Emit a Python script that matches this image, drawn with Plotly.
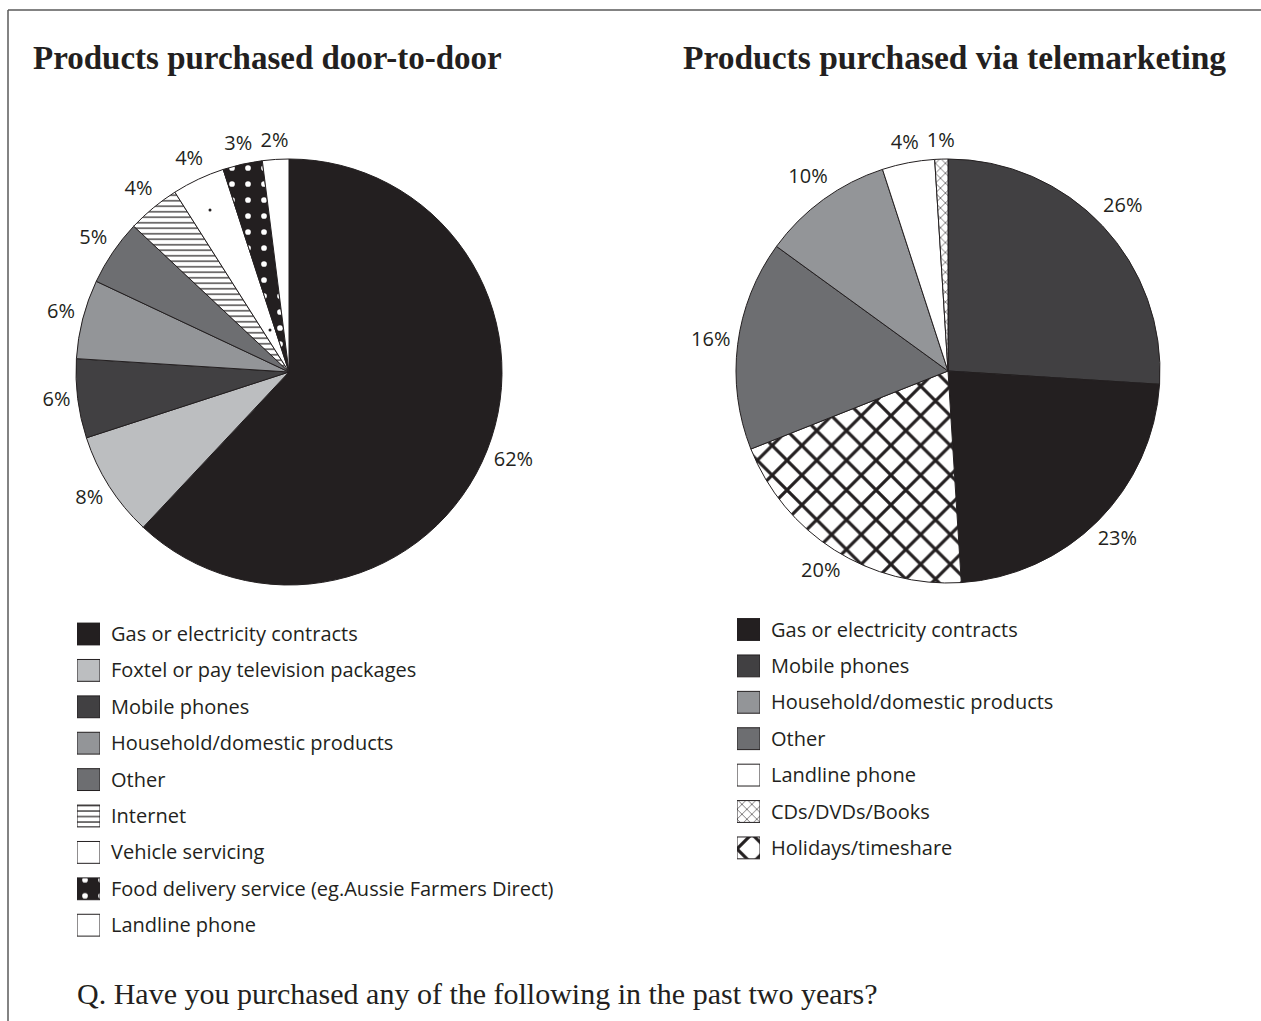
import math
import plotly.graph_objects as go

W, H = 1261, 1021

# Products purchased door-to-door, clockwise from 12 o'clock (also the legend order)
door_labels = [
    "Gas or electricity contracts",
    "Foxtel or pay television packages",
    "Mobile phones",
    "Household/domestic products",
    "Other",
    "Internet",
    "Vehicle servicing",
    "Food delivery service (eg.Aussie Farmers Direct)",
    "Landline phone",
]
door_values = [62, 8, 6, 6, 5, 4, 4, 3, 2]

# Products purchased via telemarketing, in legend order
tele_labels = [
    "Gas or electricity contracts",
    "Mobile phones",
    "Household/domestic products",
    "Other",
    "Landline phone",
    "CDs/DVDs/Books",
    "Holidays/timeshare",
]
tele_values = [23, 26, 10, 16, 4, 1, 20]

# Order of the telemarketing slices, clockwise from 12 o'clock
tele_slice_order = [
    "Mobile phones",
    "Gas or electricity contracts",
    "Holidays/timeshare",
    "Other",
    "Household/domestic products",
    "Landline phone",
    "CDs/DVDs/Books",
]

title_left = "Products purchased door-to-door"
title_right = "Products purchased via telemarketing"
question = "Q. Have you purchased any of the following in the past two years?"

# ---- styling -------------------------------------------------------------
INK = "#231f20"
WHITE = "#ffffff"
SANS = "Open Sans"
SERIF = "Liberation Serif"

# fill colour, pattern shape, pattern fg, pattern bg, pattern size, solidity
STYLE = {
    "Gas or electricity contracts": (INK, "", INK, WHITE, 8, 0.3),
    "Foxtel or pay television packages": ("#bcbec0", "", INK, WHITE, 8, 0.3),
    "Mobile phones": ("#414042", "", INK, WHITE, 8, 0.3),
    "Household/domestic products": ("#939598", "", INK, WHITE, 8, 0.3),
    "Other": ("#6d6e71", "", INK, WHITE, 8, 0.3),
    "Internet": (WHITE, "-", INK, WHITE, 5.5, 0.22),
    "Vehicle servicing": (WHITE, ".", INK, WHITE, 60, 0.002),
    "Food delivery service (eg.Aussie Farmers Direct)": (INK, ".", WHITE, INK, 16, 0.1),
    "Landline phone": (WHITE, "", INK, WHITE, 8, 0.3),
    "CDs/DVDs/Books": (WHITE, "x", INK, WHITE, 7, 0.16),
    "Holidays/timeshare": (WHITE, "x", INK, WHITE, 21, 0.28),
}

# pie geometry in pixels: centre (x, y from top) and radius
LEFT_PIE = (289, 372, 213)
RIGHT_PIE = (948, 371, 212)
POLAR_SPAN = 1.35   # radial extent of the label overlay, in pie radii
LABEL_GAP = 6       # px between the pie rim and the nearest edge of a label

LABEL_SIZE = 20
LABEL_FONT = dict(family=SANS, size=LABEL_SIZE, color=INK)


def px_x(v):
    return v / W


def px_y(v):
    return 1 - v / H


def pie_domain(geom, scale=1.0):
    cx, cy, r = geom
    r = r * scale
    return dict(x=[px_x(cx - r), px_x(cx + r)], y=[px_y(cy + r), px_y(cy - r)])


def pie_marker(labels):
    st = [STYLE[lab] for lab in labels]
    return dict(
        colors=[s[0] for s in st],
        line=dict(color=INK, width=1),
        pattern=dict(
            shape=[s[1] for s in st],
            fgcolor=[s[2] for s in st],
            bgcolor=[s[3] for s in st],
            size=[s[4] for s in st],
            solidity=[s[5] for s in st],
            fillmode="replace",
        ),
    )


def mid_angles(values):
    """Angle (degrees, clockwise from 12 o'clock) through the middle of each slice."""
    total = float(sum(values))
    out, acc = [], 0.0
    for v in values:
        out.append((acc + v / 2.0) / total * 360.0)
        acc += v
    return out


def label_radii(texts, angles, radius):
    """Push each label out so its box sits just clear of the rim."""
    out = []
    for t, a in zip(texts, angles):
        w = LABEL_SIZE * (0.57 * (len(t) - 1) + 0.85)
        h = LABEL_SIZE * 1.05
        th = math.radians(a)
        half = abs(math.sin(th)) * w / 2 + abs(math.cos(th)) * h / 2
        out.append(1 + (LABEL_GAP + half) / radius)
    return out


fig = go.Figure()

# ---- pies ----------------------------------------------------------------
fig.add_trace(go.Pie(
    labels=door_labels, values=door_values,
    sort=False, direction="clockwise", rotation=0,
    marker=pie_marker(door_labels), textinfo="none",
    domain=pie_domain(LEFT_PIE),
    showlegend=False, hoverinfo="label+value",
))

tele_lookup = dict(zip(tele_labels, tele_values))
tele_slice_values = [tele_lookup[lab] for lab in tele_slice_order]
fig.add_trace(go.Pie(
    labels=tele_slice_order, values=tele_slice_values,
    sort=False, direction="clockwise", rotation=0,
    marker=pie_marker(tele_slice_order), textinfo="none",
    domain=pie_domain(RIGHT_PIE),
    showlegend=False, hoverinfo="label+value",
))

# ---- percentage labels just outside each slice ------------------------------
for values, geom, subplot in ((door_values, LEFT_PIE, "polar"),
                              (tele_slice_values, RIGHT_PIE, "polar2")):
    texts = [f"{v}%" for v in values]
    angles = mid_angles(values)
    fig.add_trace(go.Scatterpolar(
        r=label_radii(texts, angles, geom[2]), theta=angles,
        text=texts, mode="text",
        textposition="middle center", textfont=LABEL_FONT,
        subplot=subplot, showlegend=False, hoverinfo="skip", cliponaxis=False,
    ))

hidden_polar = dict(
    bgcolor="rgba(0,0,0,0)",
    radialaxis=dict(range=[0, POLAR_SPAN], visible=False),
    angularaxis=dict(rotation=90, direction="clockwise", visible=False),
)

# ---- legends: one swatch per category, labels on the axis ticks ------------
def add_legend(labels, xa, ya):
    for lab in labels:
        color, shape, fg, bg, size, sol = STYLE[lab]
        fig.add_trace(go.Bar(
            x=[1], y=[lab], orientation="h", width=0.6,
            marker=dict(
                color=color, line=dict(color=INK, width=1),
                pattern=dict(shape=shape, fgcolor=fg, bgcolor=bg, size=size,
                             solidity=sol, fillmode="replace"),
            ),
            xaxis=xa, yaxis=ya, showlegend=False, hoverinfo="skip",
        ))


add_legend(door_labels, "x", "y")
add_legend(tele_labels, "x2", "y2")

ROW = 36.4
left_top = 634 - ROW / 2
left_bot = left_top + ROW * len(door_labels)
right_top = 629.5 - ROW / 2
right_bot = right_top + ROW * len(tele_labels)

hidden_x = dict(range=[0, 1], visible=False, fixedrange=True)
legend_y = dict(
    type="category", autorange="reversed", side="right",
    showgrid=False, zeroline=False, showline=False, ticks="",
    ticklabelstandoff=10,
    tickfont=dict(family=SANS, size=20, color=INK), fixedrange=True,
)

fig.update_layout(
    width=W, height=H,
    margin=dict(l=0, r=0, t=0, b=0),
    paper_bgcolor=WHITE, plot_bgcolor="rgba(0,0,0,0)",
    barmode="overlay",
    xaxis=dict(domain=[px_x(77), px_x(100)], anchor="y", **hidden_x),
    yaxis=dict(domain=[px_y(left_bot), px_y(left_top)], anchor="x", **legend_y),
    xaxis2=dict(domain=[px_x(737), px_x(760)], anchor="y2", **hidden_x),
    yaxis2=dict(domain=[px_y(right_bot), px_y(right_top)], anchor="x2", **legend_y),
    polar=dict(domain=pie_domain(LEFT_PIE, POLAR_SPAN), **hidden_polar),
    polar2=dict(domain=pie_domain(RIGHT_PIE, POLAR_SPAN), **hidden_polar),
)

# ---- titles and question -------------------------------------------------
fig.add_annotation(
    text=f"<b>{title_left}</b>", x=px_x(31), y=px_y(58), xref="paper", yref="paper",
    xanchor="left", yanchor="middle", showarrow=False,
    font=dict(family=SERIF, size=33, color=INK),
)
fig.add_annotation(
    text=f"<b>{title_right}</b>", x=px_x(681), y=px_y(58), xref="paper", yref="paper",
    xanchor="left", yanchor="middle", showarrow=False,
    font=dict(family=SERIF, size=33.5, color=INK),
)
fig.add_annotation(
    text=question, x=px_x(75), y=px_y(993), xref="paper", yref="paper",
    xanchor="left", yanchor="middle", showarrow=False,
    font=dict(family=SERIF, size=30, color=INK),
)

# ---- frame along the top and left -----------------------------------------
frame = dict(type="line", xref="paper", yref="paper", line=dict(color="#5a5a5a", width=1.5))
fig.add_shape(x0=px_x(8), x1=1, y0=px_y(10), y1=px_y(10), **frame)
fig.add_shape(x0=px_x(8), x1=px_x(8), y0=0, y1=px_y(10), **frame)

fig.write_html("out.html")
